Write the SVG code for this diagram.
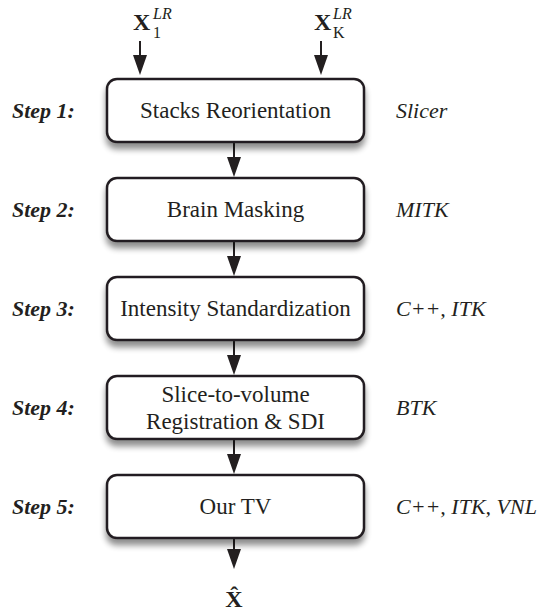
<svg xmlns="http://www.w3.org/2000/svg" width="547" height="613" viewBox="0 0 547 613">
<style>
text{font-family:'Liberation Serif','Times New Roman','DejaVu Serif',serif;fill:#231f20}
.box{fill:#fff;stroke:#231f20;stroke-width:2.5}
.t{font-size:23px;text-anchor:middle}
.step{font-size:22px;font-weight:bold;font-style:italic}
.tool{font-size:22px;font-style:italic}
.big{font-size:24px;font-weight:bold}
.sm{font-size:16px}
.ln{stroke:#231f20;stroke-width:2;fill:none}
.hd{fill:#231f20}
</style>
<defs>
<filter id="sh" x="-10%" y="-10%" width="120%" height="150%">
<feGaussianBlur in="SourceAlpha" stdDeviation="3"/>
<feOffset dy="6"/>
<feComponentTransfer><feFuncA type="linear" slope="0.45"/></feComponentTransfer>
<feMerge><feMergeNode/><feMergeNode in="SourceGraphic"/></feMerge>
</filter>
</defs>
<g id="inputs">
<text class="big" x="133" y="30">X</text>
<text class="sm" x="153" y="38">1</text>
<text class="sm" x="153" y="19" font-style="italic">LR</text>
<text class="big" x="314" y="30">X</text>
<text class="sm" x="333" y="38">K</text>
<text class="sm" x="333" y="19" font-style="italic">LR</text>
</g>
<g id="connectors">
<line class="ln" x1="140" y1="41" x2="140" y2="58"/><polygon class="hd" points="133,55 147,55 140,75"/>
<line class="ln" x1="321" y1="41" x2="321" y2="58"/><polygon class="hd" points="314,55 328,55 321,75"/>
<line class="ln" x1="234" y1="143" x2="234" y2="160"/><polygon class="hd" points="227,157 241,157 234,177"/>
<line class="ln" x1="234" y1="242" x2="234" y2="259"/><polygon class="hd" points="227,256 241,256 234,276"/>
<line class="ln" x1="234" y1="341" x2="234" y2="358"/><polygon class="hd" points="227,355 241,355 234,375"/>
<line class="ln" x1="234" y1="440" x2="234" y2="457"/><polygon class="hd" points="227,454 241,454 234,474"/>
<line class="ln" x1="234" y1="539" x2="234" y2="552"/><polygon class="hd" points="227,549 241,549 234,569"/>
</g>
<g id="step1">
<rect class="box" x="107" y="79" width="257" height="63" rx="10" filter="url(#sh)"/>
<text class="t" x="235.5" y="118">Stacks Reorientation</text>
<text class="step" x="12" y="118">Step 1:</text>
<text class="tool" x="396" y="118">Slicer</text>
</g>
<g id="step2">
<rect class="box" x="107" y="178" width="257" height="63" rx="10" filter="url(#sh)"/>
<text class="t" x="235.5" y="217">Brain Masking</text>
<text class="step" x="12" y="217">Step 2:</text>
<text class="tool" x="396" y="217">MITK</text>
</g>
<g id="step3">
<rect class="box" x="107" y="277" width="257" height="63" rx="10" filter="url(#sh)"/>
<text class="t" x="235.5" y="316">Intensity Standardization</text>
<text class="step" x="12" y="316">Step 3:</text>
<text class="tool" x="396" y="316">C++, ITK</text>
</g>
<g id="step4">
<rect class="box" x="107" y="376" width="257" height="63" rx="10" filter="url(#sh)"/>
<text class="t" x="235.5" y="402">Slice-to-volume</text>
<text class="t" x="235.5" y="429">Registration &amp; SDI</text>
<text class="step" x="12" y="415">Step 4:</text>
<text class="tool" x="396" y="415">BTK</text>
</g>
<g id="step5">
<rect class="box" x="107" y="475" width="257" height="63" rx="10" filter="url(#sh)"/>
<text class="t" x="235.5" y="514">Our TV</text>
<text class="step" x="12" y="514">Step 5:</text>
<text class="tool" x="396" y="514">C++, ITK, VNL</text>
</g>
<g id="output">
<text class="big" x="234" y="607" text-anchor="middle">X̂</text>
</g>
</svg>
